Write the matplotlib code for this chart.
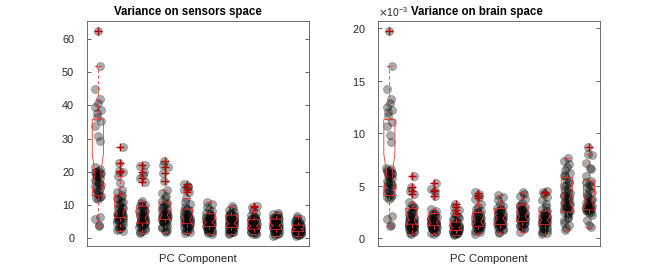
import numpy as np
import matplotlib
matplotlib.use("Agg")
import matplotlib.pyplot as plt
from matplotlib.ticker import ScalarFormatter

# --- data (10 PC components per panel) ---

# sensor space: individual values per component
sensor_points = [
    [62.3, 51.7, 45.0, 42.0, 40.8, 39.5, 38.6, 37.8, 36.5, 35.2, 33.8, 30.9, 29.2,
     21.3, 20.8, 20.3, 19.9, 19.5, 19.0, 18.6, 18.0, 17.5, 17.0, 16.4, 15.8, 15.1,
     14.3, 13.5, 12.8, 12.2, 11.8, 6.5, 5.8, 4.0, 3.7,
     20.0, 19.2, 18.3, 17.2, 16.0, 14.8, 13.2, 12.5],
    [27.5, 22.6, 20.2, 20.0, 18.6, 16.6, 14.5, 13.8, 13.0, 12.4, 11.8, 11.0, 10.4,
     9.8, 9.2, 8.7, 8.2, 7.8, 7.4, 7.0, 6.7, 6.4, 6.1, 5.8, 5.5, 5.1, 4.6, 3.6,
     3.0, 2.4, 2.1,
     8.0, 7.2, 6.9, 6.6, 6.3, 6.0, 5.6, 9.5, 10.8, 12.0, 4.0, 3.3, 2.7],
    [22.1, 21.8, 19.9, 18.9, 18.2, 16.9, 11.2, 10.6, 10.1, 9.6, 9.1, 8.6, 8.1, 7.6,
     7.1, 6.6, 6.1, 5.7, 5.3, 5.0, 4.7, 4.4, 4.0, 3.5, 3.0, 2.2, 1.7,
     5.5, 5.2, 4.9, 4.6, 4.2, 6.3, 6.8, 7.3, 8.3, 9.8, 3.7, 2.6, 2.0],
    [23.2, 22.0, 21.5, 19.7, 17.2, 14.5, 13.6, 12.8, 12.0, 11.2, 10.6, 10.0, 9.4,
     8.8, 8.2, 7.7, 7.2, 6.8, 6.4, 6.0, 5.6, 5.3, 4.9, 4.5, 3.8, 3.0, 2.2, 1.8,
     6.2, 5.8, 5.5, 5.1, 6.6, 7.0, 7.4, 8.0, 9.0, 10.3, 4.2, 3.4, 2.6],
    [16.2, 15.6, 15.3, 14.4, 14.0, 12.0, 11.0, 10.2, 9.5, 8.9, 8.4, 7.9, 7.4, 6.9,
     6.4, 6.0, 5.6, 5.2, 4.8, 4.5, 4.2, 3.8, 3.3, 2.8, 2.2, 1.6,
     4.3, 4.6, 5.0, 5.4, 5.8, 6.2, 6.7, 7.1, 3.6, 3.0, 2.5, 1.9, 8.6],
    [10.8, 10.2, 9.5, 8.8, 8.2, 7.7, 7.2, 6.8, 6.4, 6.0, 5.6, 5.3, 5.0, 4.7, 4.4,
     4.1, 3.8, 3.5, 3.2, 2.9, 2.5, 2.1, 1.7, 1.3,
     4.2, 4.5, 4.8, 5.1, 5.4, 3.3, 3.6, 3.9, 2.7, 2.3, 1.9, 6.2, 6.6, 7.0],
    [9.6, 9.2, 8.6, 8.0, 7.5, 7.0, 6.6, 6.2, 5.8, 5.4, 5.1, 4.8, 4.5, 4.2, 3.9,
     3.6, 3.3, 3.0, 2.6, 2.2, 1.8, 1.3,
     3.4, 3.7, 4.0, 4.3, 4.6, 4.9, 5.2, 2.8, 2.4, 2.0, 1.5, 5.6, 6.0, 6.4, 6.8, 7.2],
    [9.7, 9.3, 8.2, 7.6, 7.0, 6.5, 6.0, 5.6, 5.2, 4.8, 4.5, 4.2, 3.9, 3.6, 3.3,
     3.0, 2.7, 2.4, 2.0, 1.6, 1.2,
     2.9, 3.1, 3.4, 3.7, 4.0, 4.3, 2.2, 2.6, 1.8, 1.4, 4.7, 5.0, 5.4, 5.8, 6.3],
    [7.7, 7.4, 7.0, 6.6, 6.2, 5.8, 5.5, 5.2, 4.9, 4.6, 4.3, 4.0, 3.7, 3.4, 3.1,
     2.8, 2.5, 2.1, 1.7, 1.2, 0.8,
     2.6, 2.9, 3.2, 3.5, 3.8, 4.1, 4.4, 4.8, 5.1, 5.6, 6.0, 6.4, 2.3, 1.9, 1.5, 1.0],
    [6.6, 6.2, 5.8, 5.4, 5.0, 4.6, 4.3, 4.0, 3.7, 3.4, 3.1, 2.9, 2.7, 2.5, 2.3,
     2.1, 1.9, 1.6, 1.3, 1.0, 0.6,
     2.0, 2.2, 2.4, 2.6, 2.8, 3.0, 3.2, 3.5, 3.8, 4.2, 4.5, 1.5, 1.2, 0.9, 1.8, 5.2],
]
sensor_q1 = [12.8, 6.2, 4.6, 5.7, 4.4, 3.6, 3.3, 2.8, 2.7, 2.0]
sensor_med = [19.5, 7.2, 6.0, 7.0, 5.5, 4.8, 4.4, 3.7, 3.8, 2.8]
sensor_q3 = [35.8, 13.0, 9.7, 10.9, 8.8, 7.4, 7.0, 5.6, 5.8, 4.0]
sensor_cilo = [14.0, 5.8, 4.4, 5.3, 4.0, 4.0, 3.8, 3.2, 3.2, 2.4]
sensor_cihi = [25.3, 9.6, 7.6, 8.7, 7.0, 5.6, 5.4, 4.3, 4.5, 3.2]
sensor_whislo = [3.7, 2.1, 1.7, 1.8, 1.6, 1.3, 1.3, 1.2, 0.8, 0.6]
sensor_whishi = [51.7, 18.6, 11.2, 14.5, 12.0, 10.8, 9.6, 8.2, 7.7, 6.6]
sensor_fliers = [
    [62.3],
    [27.5, 22.6, 20.2, 20.0],
    [22.1, 19.9, 18.2, 16.9],
    [23.2, 21.5, 19.7, 17.2],
    [16.2, 15.3, 14.4, 14.0],
    [], [],
    [9.7, 9.3],
    [], [],
]

# brain space: values in units of 1e-3
brain_points = [
    [19.7, 16.4, 14.2, 13.3, 12.9, 12.5, 12.2, 12.0, 11.6, 11.1, 10.7, 9.8, 9.2,
     6.7, 6.6, 6.4, 6.3, 6.2, 6.0, 5.9, 5.7, 5.5, 5.4, 5.2, 5.0, 4.8, 4.5, 4.3,
     4.1, 3.9, 3.7, 2.1, 1.8, 1.3, 1.2,
     6.5, 6.1, 5.8, 5.3, 5.1, 4.7, 4.2, 3.95],
    [5.9, 4.9, 4.5, 4.2, 3.5, 3.2, 3.0, 2.8, 2.6, 2.4, 2.2, 2.0, 1.9, 1.7, 1.6,
     1.5, 1.4, 1.3, 1.2, 1.1, 1.0, 0.9, 0.7, 0.5, 0.4,
     1.3, 1.4, 1.5, 1.6, 1.2, 1.1, 1.0, 0.8, 0.6, 2.1, 2.5, 1.8, 1.7, 2.9],
    [5.3, 4.7, 4.5, 4.0, 2.8, 2.6, 2.4, 2.2, 2.0, 1.9, 1.7, 1.6, 1.5, 1.4, 1.3,
     1.2, 1.1, 1.0, 0.9, 0.7, 0.5, 0.4,
     1.3, 1.4, 1.5, 1.6, 1.2, 1.1, 1.0, 0.8, 0.6, 1.8, 2.1, 2.3, 1.7],
    [3.3, 3.0, 2.7, 2.4, 2.2, 2.0, 1.8, 1.6, 1.5, 1.4, 1.3, 1.2, 1.1, 1.0, 0.9,
     0.8, 0.7, 0.6, 0.5, 0.4, 0.3,
     0.8, 0.9, 1.0, 1.1, 0.7, 0.6, 0.5, 1.2, 1.3, 1.4, 1.7, 1.9, 0.4],
    [4.4, 4.2, 3.9, 3.7, 3.3, 3.0, 2.8, 2.6, 2.4, 2.2, 2.0, 1.8, 1.7, 1.6, 1.5,
     1.4, 1.3, 1.2, 1.1, 1.0, 0.8, 0.6, 0.4,
     1.2, 1.3, 1.4, 1.5, 1.6, 1.7, 1.9, 2.1, 1.1, 0.9, 0.7, 2.3, 2.5],
    [4.1, 3.9, 3.6, 3.3, 3.1, 2.9, 2.7, 2.5, 2.3, 2.1, 2.0, 1.9, 1.8, 1.7, 1.6,
     1.5, 1.4, 1.3, 1.2, 1.0, 0.8, 0.6, 0.5,
     1.4, 1.5, 1.6, 1.7, 1.8, 1.9, 2.0, 2.2, 2.4, 1.3, 1.1, 0.9, 2.6, 2.8],
    [4.4, 4.2, 4.0, 3.7, 3.4, 3.2, 3.0, 2.8, 2.6, 2.4, 2.2, 2.1, 2.0, 1.9, 1.8,
     1.7, 1.6, 1.5, 1.3, 1.1, 0.9, 0.6,
     1.6, 1.7, 1.8, 1.9, 2.0, 2.1, 2.3, 2.5, 2.7, 1.4, 1.2, 1.0, 2.9, 3.1],
    [4.5, 4.4, 4.2, 3.9, 3.6, 3.3, 3.0, 2.8, 2.6, 2.4, 2.2, 2.0, 1.9, 1.8, 1.7,
     1.6, 1.5, 1.4, 1.3, 1.1, 0.9, 0.7, 0.5, 0.4,
     1.4, 1.5, 1.6, 1.7, 1.8, 1.9, 2.1, 1.2, 1.0, 0.8, 0.6, 2.3, 2.5],
    [7.6, 7.4, 7.1, 6.8, 6.5, 6.2, 5.9, 5.6, 5.3, 5.0, 4.7, 4.4, 4.1, 3.9, 3.7,
     3.5, 3.3, 3.1, 2.9, 2.7, 2.5, 2.3, 2.0, 1.7, 1.3, 1.0, 0.8,
     2.6, 2.8, 3.0, 3.2, 3.4, 3.6, 3.8, 4.0, 4.3, 4.6, 5.1, 5.5, 6.0, 2.4, 1.9, 1.5],
    [8.7, 8.0, 7.9, 7.2, 6.7, 6.6, 5.9, 5.5, 5.2, 4.9, 4.4, 4.0, 3.8, 3.6, 3.4,
     3.2, 3.0, 2.9, 2.8, 2.7, 2.6, 2.2, 1.7, 1.3, 1.1,
     2.7, 2.8, 2.9, 3.0, 3.1, 3.3, 3.5, 3.7, 4.2, 4.6, 5.0, 5.4, 2.5, 2.4],
]
brain_q1 = [4.06, 1.35, 1.2, 0.75, 1.15, 1.3, 1.6, 1.3, 2.5, 2.7]
brain_med = [6.2, 1.75, 1.5, 1.0, 1.6, 1.9, 2.1, 1.75, 3.7, 3.5]
brain_q3 = [11.3, 2.85, 2.35, 1.55, 2.45, 2.85, 3.15, 2.6, 5.8, 5.5]
brain_cilo = [4.4, 1.25, 1.15, 0.8, 1.2, 1.5, 1.7, 1.4, 3.0, 2.8]
brain_cihi = [8.0, 2.25, 1.9, 1.2, 2.0, 2.3, 2.5, 2.1, 4.5, 4.2]
brain_whislo = [1.2, 0.4, 0.4, 0.3, 0.4, 0.5, 0.6, 0.4, 0.8, 1.1]
brain_whishi = [16.4, 3.5, 2.8, 2.2, 3.3, 4.1, 4.4, 3.9, 7.6, 8.0]
brain_fliers = [
    [19.7],
    [5.9, 4.9, 4.5, 4.2],
    [5.3, 4.6, 4.5, 4.0],
    [3.3, 3.0, 2.7, 2.4],
    [4.3, 4.0, 3.8],
    [], [],
    [4.4, 4.3],
    [],
    [8.7],
]

plt.rcParams["font.family"] = ["Liberation Sans", "DejaVu Sans"]
plt.rcParams["axes.unicode_minus"] = True


def make_stats(q1, med, q3, cilo, cihi, wlo, whi, fliers, scale=1.0):
    stats = []
    for i in range(len(q1)):
        stats.append(dict(
            q1=q1[i] * scale, med=med[i] * scale, q3=q3[i] * scale,
            cilo=cilo[i] * scale, cihi=cihi[i] * scale,
            whislo=wlo[i] * scale, whishi=whi[i] * scale,
            fliers=np.array(fliers[i]) * scale,
        ))
    return stats


def draw_panel(ax, stats, points, scale, title, title_x):
    red = "#ff3030"
    ax.bxp(
        stats, positions=np.arange(1, len(stats) + 1), widths=0.5,
        shownotches=True, showcaps=True, capwidths=0.25,
        boxprops=dict(color=red, linewidth=0.6),
        medianprops=dict(color=red, linewidth=0.6, zorder=2.5),
        whiskerprops=dict(color=red, linewidth=0.6, linestyle=(0, (4, 3))),
        capprops=dict(color=red, linewidth=0.6),
        flierprops=dict(marker="+", markeredgecolor="#b80000", markersize=6,
                        markeredgewidth=1.0, linestyle="none"),
        manage_ticks=False, zorder=4,
    )
    for k, vals in enumerate(points):
        vals = np.array(vals) * scale
        # deterministic jitter around the box centre
        jit = 0.13 * np.sin(2.3 * np.arange(len(vals)) + 1.1 * k)
        ax.scatter(k + 1 + jit, vals, s=34, facecolor=(0, 0, 0, 0.33),
                   edgecolor=(0, 0, 0, 0.38), linewidth=0.4, zorder=3)

    ax.set_xlim(0.5, 10.5)
    ax.set_xticks([])
    ax.set_xlabel("PC Component", fontsize=8.2, color="#262626", labelpad=5.5)
    ax.set_title(title, fontsize=8.3, fontweight="bold", pad=4, x=title_x)
    ax.tick_params(axis="y", direction="in", length=3, width=0.5, right=True,
                   labelsize=7.8, pad=9.0, colors="#262626")
    for sp in ax.spines.values():
        sp.set_color("#555555")
        sp.set_linewidth(0.6)


fig = plt.figure(figsize=(6.64, 2.78), dpi=100)
ax1 = fig.add_axes([0.1306, 0.1151, 0.3352, 0.8104])
ax2 = fig.add_axes([0.5697, 0.1151, 0.3339, 0.8104])

s_stats = make_stats(sensor_q1, sensor_med, sensor_q3, sensor_cilo, sensor_cihi,
                     sensor_whislo, sensor_whishi, sensor_fliers)
draw_panel(ax1, s_stats, sensor_points, 1.0, "Variance on sensors space", 0.455)
ax1.set_ylim(-2.3, 65.4)
ax1.set_yticks(np.arange(0, 61, 10))

b_stats = make_stats(brain_q1, brain_med, brain_q3, brain_cilo, brain_cihi,
                     brain_whislo, brain_whishi, brain_fliers, scale=1e-3)
draw_panel(ax2, b_stats, brain_points, 1e-3, "Variance on brain space", 0.445)
ax2.set_ylim(-0.73e-3, 20.7e-3)
ax2.set_yticks(np.arange(0, 0.0201, 0.005))
fmt = ScalarFormatter(useMathText=True)
fmt.set_powerlimits((-3, -3))
ax2.yaxis.set_major_formatter(fmt)
ax2.yaxis.get_offset_text().set_fontsize(7.5)
ax2.yaxis.get_offset_text().set_color("#262626")

fig.savefig("out.png", dpi=100)
